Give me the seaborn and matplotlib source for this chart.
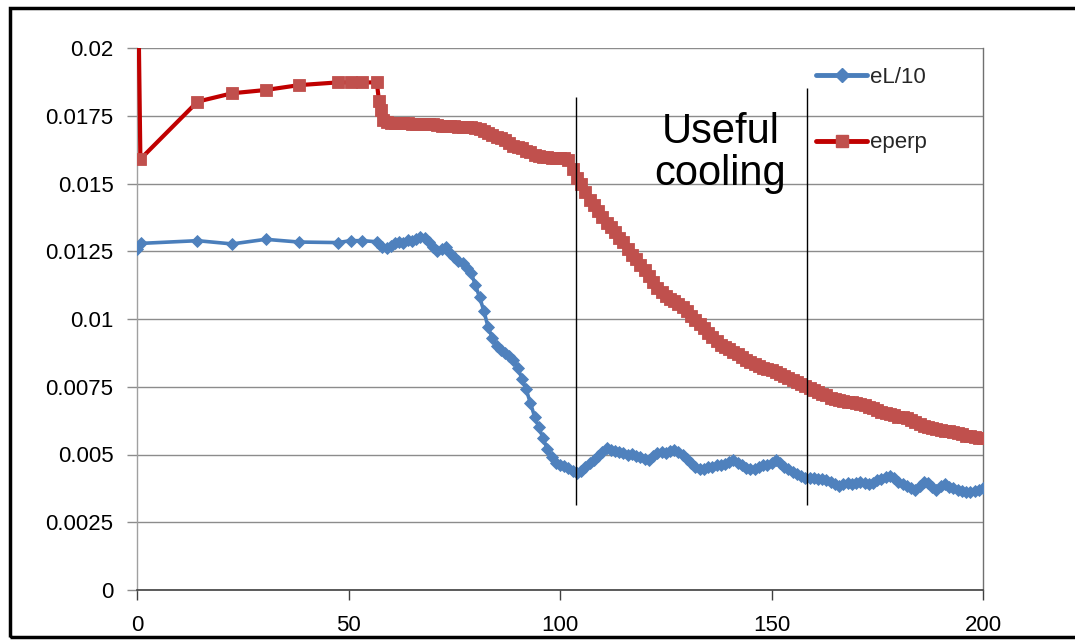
import matplotlib
matplotlib.use("Agg")
import matplotlib.pyplot as plt
import seaborn as sns
import pandas as pd
from matplotlib.lines import Line2D
from matplotlib.patches import Rectangle

# ---------------- data ----------------
el_x = [0, 0.9, 14.3, 22.5, 30.4, 38.3, 47.4, 50.5, 53.3, 56.7, 58, 59] + list(range(60, 201))
el_y = [0.01258, 0.01279, 0.01289, 0.01277, 0.01294, 0.01284, 0.01282, 0.01289, 0.01289, 0.01285, 0.01267, 0.01262,
        # 60-79
        0.01270, 0.01280, 0.01285, 0.01282, 0.01290, 0.01288, 0.01295, 0.01302, 0.01298, 0.01285,
        0.01265, 0.01250, 0.01258, 0.01265, 0.01245, 0.01228, 0.01215, 0.01205, 0.01190, 0.01170,
        # 80-99
        0.01125, 0.01080, 0.01030, 0.00970, 0.00930, 0.00900, 0.00885, 0.00875, 0.00865, 0.00850,
        0.00820, 0.00780, 0.00740, 0.00690, 0.00640, 0.00600, 0.00560, 0.00520, 0.00490, 0.00470,
        # 100-119
        0.00462, 0.00458, 0.00450, 0.00440, 0.00432, 0.00440, 0.00455, 0.00467, 0.00480, 0.00495,
        0.00510, 0.00525, 0.00515, 0.00512, 0.00508, 0.00505, 0.00500, 0.00502, 0.00496, 0.00490,
        # 120-139
        0.00485, 0.00478, 0.00495, 0.00505, 0.00508, 0.00505, 0.00512, 0.00515, 0.00508, 0.00500,
        0.00485, 0.00470, 0.00455, 0.00445, 0.00448, 0.00455, 0.00455, 0.00460, 0.00462, 0.00465,
        # 140-159
        0.00472, 0.00478, 0.00470, 0.00460, 0.00450, 0.00445, 0.00448, 0.00455, 0.00460, 0.00462,
        0.00470, 0.00478, 0.00470, 0.00455, 0.00445, 0.00435, 0.00428, 0.00420, 0.00415, 0.00412,
        # 160-179
        0.00412, 0.00410, 0.00408, 0.00405, 0.00400, 0.00392, 0.00383, 0.00390, 0.00395, 0.00392,
        0.00395, 0.00398, 0.00394, 0.00390, 0.00395, 0.00405, 0.00410, 0.00418, 0.00422, 0.00412,
        # 180-200
        0.00400, 0.00390, 0.00382, 0.00375, 0.00370, 0.00385, 0.00400, 0.00395, 0.00380, 0.00370,
        0.00385, 0.00392, 0.00380, 0.00375, 0.00370, 0.00365, 0.00360, 0.00362, 0.00366, 0.00368,
        0.00375]

ep_x = [0, 0.8, 14.3, 22.5, 30.4, 38.3, 47.4, 50.5, 53.3, 56.7, 57.2, 57.7, 58.2, 59] + list(range(60, 201))
ep_y = [0.0255, 0.0159, 0.01802, 0.01833, 0.01845, 0.01863, 0.01873, 0.01873, 0.01873, 0.01873,
        0.01805, 0.01770, 0.01735, 0.01728,
        # 60-79
        0.01725, 0.01724, 0.01723, 0.01722, 0.01722, 0.01721, 0.01721, 0.01720, 0.01720, 0.01719,
        0.01718, 0.01716, 0.01714, 0.01713, 0.01712, 0.01711, 0.01710, 0.01710, 0.01709, 0.01708,
        # 80-99
        0.01705, 0.01700, 0.01692, 0.01685, 0.01678, 0.01672, 0.01667, 0.01660, 0.01650, 0.01640,
        0.01636, 0.01630, 0.01620, 0.01615, 0.01606, 0.01600, 0.01597, 0.01596, 0.01595, 0.01595,
        # 100-119
        0.01594, 0.01593, 0.01585, 0.01555, 0.01520, 0.01500, 0.01470, 0.01440, 0.01420, 0.01400,
        0.01375, 0.01355, 0.01340, 0.01320, 0.01300, 0.01285, 0.01260, 0.01235, 0.01220, 0.01200,
        # 120-139
        0.01180, 0.01160, 0.01135, 0.01115, 0.01100, 0.01085, 0.01075, 0.01065, 0.01055, 0.01045,
        0.01030, 0.01010, 0.00995, 0.00980, 0.00965, 0.00950, 0.00935, 0.00920, 0.00905, 0.00895,
        # 140-159
        0.00888, 0.00880, 0.00870, 0.00860, 0.00850, 0.00840, 0.00833, 0.00826, 0.00820, 0.00815,
        0.00810, 0.00805, 0.00798, 0.00790, 0.00782, 0.00775, 0.00768, 0.00760, 0.00752, 0.00745,
        # 160-179
        0.00738, 0.00732, 0.00725, 0.00718, 0.00710, 0.00705, 0.00702, 0.00698, 0.00695, 0.00692,
        0.00690, 0.00686, 0.00683, 0.00677, 0.00670, 0.00663, 0.00658, 0.00653, 0.00650, 0.00645,
        # 180-200
        0.00640, 0.00637, 0.00633, 0.00627, 0.00620, 0.00613, 0.00607, 0.00603, 0.00598, 0.00595,
        0.00592, 0.00588, 0.00585, 0.00582, 0.00578, 0.00574, 0.00570, 0.00567, 0.00564, 0.00562,
        0.00562]

series_labels = ["eL/10", "eperp"]
x_ticks = [0, 50, 100, 150, 200]
y_ticks = [0, 0.0025, 0.005, 0.0075, 0.01, 0.0125, 0.015, 0.0175, 0.02]
y_tick_labels = ["0", "0.0025", "0.005", "0.0075", "0.01", "0.0125", "0.015", "0.0175", "0.02"]
cooling_bounds = [103.8, 158.5]
cooling_tops = [0.01819, 0.01852]
cooling_bottom = 0.00314
annotation = "Useful\ncooling"

# ---------------- style ----------------
sns.set_style("white")
plt.rcParams["font.family"] = ["Liberation Sans", "DejaVu Sans"]

BLUE_LINE = "#4A7EBB"
BLUE_MARK = "#4F81BD"
RED_LINE = "#C00000"
RED_MARK = "#C0504D"

fig = plt.figure(figsize=(10.75, 6.41), dpi=100)
ax = fig.add_axes([137 / 1075, 1 - 590 / 641, (983 - 137) / 1075, (590 - 48) / 641])

df_el = pd.DataFrame({"x": el_x, "y": el_y})
df_ep = pd.DataFrame({"x": ep_x, "y": ep_y})

sns.lineplot(data=df_el, x="x", y="y", ax=ax, sort=False, color=BLUE_LINE, lw=2.6,
             marker="D", markersize=6.4, markerfacecolor=BLUE_MARK, markeredgecolor=BLUE_MARK,
             markeredgewidth=0.6, zorder=3)
sns.lineplot(data=df_ep, x="x", y="y", ax=ax, sort=False, color=RED_LINE, lw=3.0,
             marker="s", markersize=8.4, markerfacecolor=RED_MARK, markeredgecolor=RED_MARK,
             markeredgewidth=0.6, zorder=3, clip_on=True)

ax.set_xlim(0, 200)
ax.set_ylim(0, 0.02)
ax.set_xticks(x_ticks)
ax.set_xticklabels([str(t) for t in x_ticks])
ax.set_yticks(y_ticks)
ax.set_yticklabels(y_tick_labels)
ax.set_xlabel("")
ax.set_ylabel("")

ax.grid(axis="y", color="#8C8C8C", lw=1.0)
ax.grid(axis="x", visible=False)
ax.set_axisbelow(True)

ax.spines["top"].set_visible(False)
ax.spines["left"].set_color("#A0A0A0")
ax.spines["left"].set_linewidth(1.0)
ax.spines["bottom"].set_color("#404040")
ax.spines["bottom"].set_linewidth(1.2)
ax.spines["right"].set_color("#707070")
ax.spines["right"].set_linewidth(1.0)

ax.tick_params(axis="y", direction="out", length=7, width=1, color="#8C8C8C",
               labelsize=16, pad=10, labelcolor="#000000", left=True)
ax.tick_params(axis="x", direction="out", length=7, width=1, color="#404040",
               labelsize=16, pad=11, labelcolor="#000000", bottom=True)

# cooling window lines
for xb, yt in zip(cooling_bounds, cooling_tops):
    ax.vlines(xb, cooling_bottom, yt, color="black", lw=1.0, zorder=4)

ax.text(137.9, 0.01613, annotation, ha="center", va="center", fontsize=30,
        linespacing=1.05, color="black", zorder=5)

handles = [
    Line2D([], [], color=BLUE_LINE, lw=3.5, marker="D", markersize=7,
           markerfacecolor=BLUE_MARK, markeredgecolor=BLUE_MARK),
    Line2D([], [], color=RED_LINE, lw=3.5, marker="s", markersize=9,
           markerfacecolor=RED_MARK, markeredgecolor=RED_MARK),
]
ax.legend(handles, series_labels, loc="upper left",
          bbox_to_anchor=((816 - 137) / 846, (590 - 67) / 542),
          frameon=False, fontsize=16, handlelength=2.3, handletextpad=0.15,
          labelspacing=2.0, borderaxespad=0, borderpad=0)

# outer border
fig.patches.append(Rectangle((10 / 1075, 1 - 637 / 641), 1.1, (637 - 8) / 641,
                             transform=fig.transFigure, fill=False,
                             edgecolor="black", lw=2.5, zorder=10))

fig.savefig("out.png", dpi=100)
